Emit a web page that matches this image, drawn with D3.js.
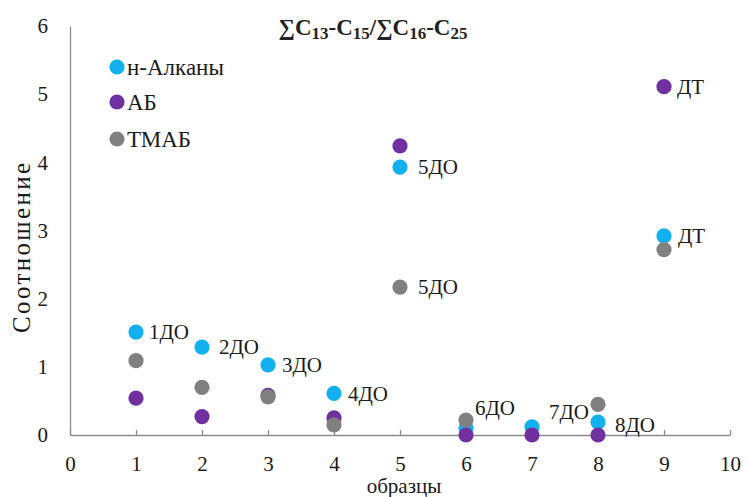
<!DOCTYPE html>
<html>
<head>
<meta charset="utf-8">
<script src="https://cdn.jsdelivr.net/npm/d3@7/dist/d3.min.js"></script>
<style>
  html, body { margin: 0; padding: 0; background: #fff; }
  svg text { font-family: "Liberation Serif", "DejaVu Serif", serif; }
</style>
</head>
<body>
<svg id="chart" width="746" height="497"></svg>
<script>
// Sample numbers (x axis)
const samples = [1, 2, 3, 4, 5, 6, 7, 8, 9];

// Ratio ΣC13-C15 / ΣC16-C25 per sample, by hydrocarbon group
const alkanes = [1.51, 1.29, 1.03, 0.61, 3.93, 0.10, 0.12, 0.19, 2.92]; // н-Алканы
const ab      = [0.54, 0.27, 0.58, 0.25, 4.24, 0.00, 0.00, 0.00, 5.11]; // АБ
const tmab    = [1.09, 0.70, 0.56, 0.15, 2.17, 0.22, null, 0.45, 2.72]; // ТМАБ

const seriesNames  = ["н-Алканы", "АБ", "ТМАБ"];
const seriesColors = ["#12b0ee", "#7030a0", "#808080"];

const xTicks = [0, 1, 2, 3, 4, 5, 6, 7, 8, 9, 10];
const yTicks = [0, 1, 2, 3, 4, 5, 6];

// Point annotations: series index, sample, text
const annotations = [
  { s: 0, x: 1, text: "1ДО" },
  { s: 0, x: 2, text: "2ДО" },
  { s: 0, x: 3, text: "3ДО" },
  { s: 0, x: 4, text: "4ДО" },
  { s: 0, x: 5, text: "5ДО" },
  { s: 2, x: 5, text: "5ДО" },
  { s: 2, x: 6, text: "6ДО" },
  { s: 0, x: 7, text: "7ДО" },
  { s: 0, x: 8, text: "8ДО" },
  { s: 1, x: 9, text: "ДТ" },
  { s: 0, x: 9, text: "ДТ" }
];
// Label offsets from their point, in pixels
const annotationOffsets = [
  [13, 0], [17, 0], [14, 0], [14, 0], [18, 0], [18, 0],
  [9, -12], [17, -15], [17, 3], [13, 0], [14, 0]
];

const svg = d3.select("#chart");
const plotLeft = 70, plotRight = 730, plotTop = 26, plotBottom = 435;

const x = d3.scaleLinear().domain([0, 10]).range([plotLeft, plotRight]);
const y = d3.scaleLinear().domain([0, 6]).range([plotBottom, plotTop]);

const axisColor = "#8c8c8c";
const textColor = "#1a1a1a";

// X axis with upward ticks
const gx = svg.append("g")
  .attr("transform", `translate(0,${plotBottom})`)
  .call(d3.axisBottom(x).tickValues(xTicks).tickFormat(d3.format("d"))
    .tickSizeInner(-5).tickSizeOuter(0).tickPadding(21));
gx.select(".domain").attr("stroke", axisColor).attr("stroke-width", 1.3);
gx.selectAll(".tick line").attr("stroke", axisColor).attr("stroke-width", 1.3);
gx.selectAll(".tick text").attr("font-size", 21).attr("fill", textColor);

// Y axis without tick marks
const gy = svg.append("g")
  .attr("transform", `translate(${plotLeft},0)`)
  .call(d3.axisLeft(y).tickValues(yTicks).tickFormat(d3.format("d"))
    .tickSizeInner(0).tickSizeOuter(0).tickPadding(22));
gy.select(".domain").attr("stroke", axisColor).attr("stroke-width", 1.3);
gy.selectAll(".tick text").attr("font-size", 21).attr("fill", textColor);

// Axis titles
svg.append("text")
  .attr("x", (plotLeft + plotRight) / 2 + 4).attr("y", 493)
  .attr("text-anchor", "middle")
  .attr("font-size", 21).attr("fill", textColor)
  .text("образцы");
svg.append("text")
  .attr("transform", `translate(30,248) rotate(-90)`)
  .attr("text-anchor", "middle")
  .attr("font-size", 25).attr("fill", textColor)
  .attr("textLength", 170).attr("lengthAdjust", "spacing")
  .text("Соотношение");

// Title with subscripts
const title = svg.append("text")
  .attr("x", 373).attr("y", 35)
  .attr("text-anchor", "middle")
  .attr("font-size", 23).attr("font-weight", "bold")
  .attr("fill", "#222");
const titleParts = [
  ["∑C", false], ["13", true], ["-C", false], ["15", true], ["/∑C", false],
  ["16", true], ["-C", false], ["25", true]
];
titleParts.forEach(([t, sub], i) => {
  const prevSub = i > 0 && titleParts[i - 1][1];
  const span = title.append("tspan").text(t);
  if (sub) span.attr("font-size", 17).attr("dy", prevSub ? 0 : 4);
  else if (prevSub) span.attr("dy", -4);
});

// Points
const series = [alkanes, ab, tmab];
const r = 7.6;
series.forEach((vals, si) => {
  const pts = samples.map((s, i) => ({ x: s, v: vals[i] })).filter(d => d.v !== null);
  svg.append("g").selectAll("circle").data(pts).join("circle")
    .attr("cx", d => x(d.x)).attr("cy", d => y(d.v)).attr("r", r)
    .attr("fill", seriesColors[si]);
});

// Point labels
svg.append("g")
  .selectAll("text").data(annotations).join("text")
  .attr("x", (d, i) => x(d.x) + annotationOffsets[i][0])
  .attr("y", (d, i) => y(series[d.s][samples.indexOf(d.x)]) + annotationOffsets[i][1])
  .attr("dy", "0.35em")
  .attr("font-size", 21).attr("fill", textColor)
  .text(d => d.text);

// Legend
const legend = svg.append("g");
seriesNames.forEach((name, i) => {
  const ly = [67, 102, 139][i];
  legend.append("circle").attr("cx", 117).attr("cy", ly).attr("r", r)
    .attr("fill", seriesColors[i]);
  legend.append("text").attr("x", 127).attr("y", ly).attr("dy", "0.35em")
    .attr("font-size", 23).attr("fill", textColor).text(name);
});
</script>
</body>
</html>
